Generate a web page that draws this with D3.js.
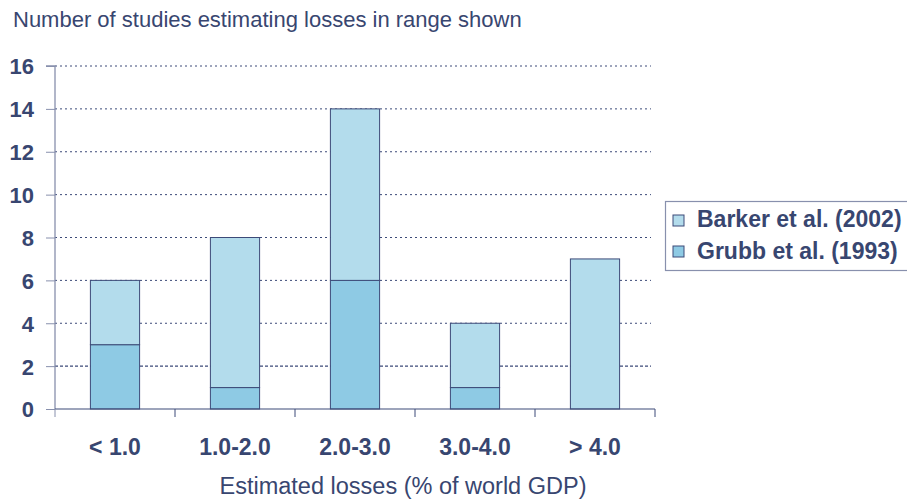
<!DOCTYPE html>
<html><head><meta charset="utf-8">
<script src="https://cdn.jsdelivr.net/npm/d3@7"></script>
<style>body{margin:0;background:#fff}svg{display:block;font-family:Arial,"Liberation Sans",sans-serif}</style>
</head><body><svg id="c" width="907" height="500"></svg>
<script>
const categories = ["< 1.0", "1.0-2.0", "2.0-3.0", "3.0-4.0", "> 4.0"];
const grubb = [3, 1, 6, 1, 0];
const barker = [3, 7, 8, 3, 7];
const yTicks = [0, 2, 4, 6, 8, 10, 12, 14, 16];
const seriesNames = ["Barker et al. (2002)", "Grubb et al. (1993)"];

const txt = "#384670", edge = "#3c4a78";
const colBarker = "#b3dcec", colGrubb = "#8ecae4";
const FONT = 'Arial, "Liberation Sans", sans-serif';
const svg = d3.select("#c");
const x0 = 55, x1 = 655, yTop = 66, yBot = 409;
const x = d3.scaleBand().domain(categories).range([x0, x1]).paddingInner(0.59).paddingOuter(0.295);
const y = d3.scaleLinear().domain([0, 16]).range([yBot, yTop]);

// gridlines
svg.append("g").selectAll("line").data(yTicks.filter(d => d > 0)).join("line")
  .attr("x1", x0).attr("x2", 651).attr("y1", d => y(d)).attr("y2", d => y(d))
  .attr("stroke", edge).attr("stroke-width", d => d === 2 ? 1.4 : 1)
  .attr("stroke-dasharray", d => d === 2 ? "3,2" : "2,3");

// bars
const data = categories.map((c, i) => ({c, g: grubb[i], b: barker[i]}));
const gb = svg.append("g");
data.forEach(d => {
  if (d.g > 0) gb.append("rect").attr("x", x(d.c)).attr("width", x.bandwidth())
    .attr("y", y(d.g)).attr("height", y(0) - y(d.g))
    .attr("fill", colGrubb).attr("stroke", edge).attr("stroke-width", 1);
  gb.append("rect").attr("x", x(d.c)).attr("width", x.bandwidth())
    .attr("y", y(d.g + d.b)).attr("height", y(d.g) - y(d.g + d.b))
    .attr("fill", colBarker).attr("stroke", edge).attr("stroke-width", 1);
});

// y axis
const ya = svg.append("g").attr("transform", `translate(${x0},0)`)
  .call(d3.axisLeft(y).tickValues(yTicks).tickSize(9).tickPadding(12));
ya.attr("font-family", FONT);
ya.select(".domain").attr("stroke", "#8890ad").attr("stroke-width", 1.3).attr("d", `M-9,${yTop}H0V${yBot}`);
ya.selectAll(".tick line").attr("stroke", "#8890ad");
ya.selectAll("text").attr("fill", txt).style("font-size", "22px").style("font-weight", "bold").attr("dy", "0.36em");

// x axis
const xa = svg.append("g").attr("transform", `translate(0,${yBot})`);
xa.append("line").attr("x1", x0).attr("x2", x1).attr("stroke", edge).attr("stroke-width", 1.2);
const step = (x1 - x0) / categories.length;
xa.selectAll("line.t").data(d3.range(categories.length + 1)).join("line").attr("class", "t")
  .attr("x1", i => x0 + i * step).attr("x2", i => x0 + i * step).attr("y1", 0).attr("y2", 8)
  .attr("stroke", i => i === 0 ? "#8890ad" : edge);
xa.selectAll("text").data(categories).join("text")
  .attr("x", d => x(d) + x.bandwidth() / 2).attr("y", 46).attr("text-anchor", "middle")
  .attr("fill", txt).style("font-size", "23px").style("font-weight", "bold").text(d => d);

// titles
svg.append("text").attr("x", 13).attr("y", 27).attr("fill", txt).style("font-size", "22px")
  .text("Number of studies estimating losses in range shown");
svg.append("text").attr("x", 403).attr("y", 494).attr("text-anchor", "middle").attr("fill", txt)
  .style("font-size", "23.5px").text("Estimated losses (% of world GDP)");

// legend
const lg = svg.append("g");
lg.append("rect").attr("x", 665.5).attr("y", 201.5).attr("width", 260).attr("height", 69)
  .attr("fill", "#fff").attr("stroke", "#8890ad").attr("stroke-width", 1.2);
const lcol = [colBarker, colGrubb];
seriesNames.forEach((n, i) => {
  lg.append("rect").attr("x", 673).attr("y", 215 + i * 31).attr("width", 11).attr("height", 11)
    .attr("fill", lcol[i]).attr("stroke", edge).attr("stroke-width", 1);
  lg.append("text").attr("x", 697).attr("y", 227 + i * 32).attr("fill", txt)
    .style("font-size", "23px").style("font-weight", "bold").text(n);
});
</script></body></html>
